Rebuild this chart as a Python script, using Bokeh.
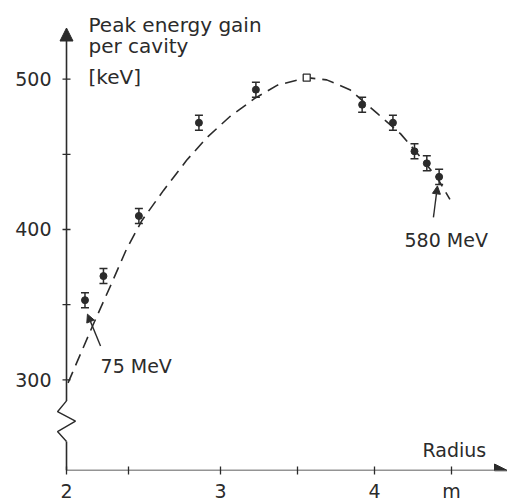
from bokeh.plotting import figure
from bokeh.models import (Range1d, FixedTicker, Arrow, NormalHead, Label,
                          Whisker, ColumnDataSource, TeeHead)
from bokeh.embed import file_html
from bokeh.resources import INLINE

# ---- data ----
radius = [2.12, 2.24, 2.47, 2.86, 3.23, 3.92, 4.12, 4.26, 4.34, 4.42]
gain = [353, 369, 409, 471, 493, 483, 471, 452, 444, 435]
err = [5, 5, 5, 5, 5, 5, 5, 5, 5, 5]

peak_r = [3.56]
peak_gain = [501]

curve_r = [2.01, 2.17, 2.29, 2.39, 2.49, 2.63, 2.78, 2.91, 3.06, 3.22, 3.37, 3.56,
           3.69, 3.84, 4.02, 4.17, 4.30, 4.41, 4.49]
curve_gain = [298, 336, 363.5, 387, 406, 426, 446, 461, 475, 487, 496, 501,
              499.5, 493, 477, 463.6, 448, 434, 420]

x_ticks = [2, 2.4, 3, 3.5, 4, 4.5]
x_tick_labels = {2: "2", 2.4: "", 3: "3", 3.5: "", 4: "4", 4.5: "m"}
y_ticks = [300, 350, 400, 450, 500]
y_tick_labels = {300: "300", 350: "", 400: "400", 450: "", 500: "500"}

title_lines = ["Peak energy gain", "per cavity", "[keV]"]
x_title = "Radius"
notes = ["75 MeV", "580 MeV"]

INK = "#2b2b2b"
FONT = "DejaVu Sans"
FS = "19px"
FS_T = "20px"

x0, x1 = 1.935, 4.864
y0, y1 = 239.7, 552.3

p = figure(width=507, height=504, output_backend="svg", toolbar_location=None,
           x_range=Range1d(x0, x1), y_range=Range1d(y0, y1),
           min_border_left=56, min_border_right=0, min_border_top=0,
           min_border_bottom=32)
p.outline_line_color = None
p.grid.visible = False
p.background_fill_color = "white"
p.border_fill_color = "white"

# bottom axis: native ticks and labels
xa = p.xaxis[0]
xa.ticker = FixedTicker(ticks=x_ticks)
xa.major_label_overrides = x_tick_labels
xa.axis_line_color = None
xa.major_tick_line_color = INK
xa.major_tick_line_width = 1.3
xa.major_tick_in = 4
xa.major_tick_out = 4
xa.minor_tick_line_color = None
xa.major_label_standoff = 5
xa.major_label_text_font = FONT
xa.major_label_text_font_size = FS
xa.major_label_text_color = INK

# left axis: labels only (axis line drawn at r = 2)
ya = p.yaxis[0]
ya.ticker = FixedTicker(ticks=y_ticks)
ya.major_label_overrides = y_tick_labels
ya.axis_line_color = None
ya.major_tick_line_color = None
ya.major_tick_in = 0
ya.major_tick_out = 0
ya.minor_tick_line_color = None
ya.major_label_standoff = 5
ya.major_label_text_font = FONT
ya.major_label_text_font_size = FS
ya.major_label_text_color = INK

# axis lines with arrows
ax_x = 2.0
p.add_layout(Arrow(x_start=ax_x, y_start=y0, x_end=x1, y_end=y0,
                   line_color=INK, line_width=1.6,
                   end=NormalHead(size=13, fill_color=INK, line_color=INK)))
# y axis: lower piece, zigzag break, upper piece with arrow
brk_top, brk_bot = 286, 259
p.line([ax_x, ax_x], [y0, brk_bot], line_color=INK, line_width=1.6)
dx = 9 / 154.0
p.line([ax_x, ax_x - dx, ax_x + dx, ax_x - dx, ax_x],
       [brk_top, 278.8, 272.6, 265.6, brk_bot], line_color=INK, line_width=1.4)
p.add_layout(Arrow(x_start=ax_x, y_start=brk_top, x_end=ax_x, y_end=534,
                   line_color=INK, line_width=1.6,
                   end=NormalHead(size=13, fill_color=INK, line_color=INK)))
# y ticks crossing the axis
tk = 4 / 154.0
p.segment(x0=[ax_x - tk] * len(y_ticks), y0=y_ticks,
          x1=[ax_x + tk] * len(y_ticks), y1=y_ticks,
          line_color=INK, line_width=1.3)

# dashed curve
p.line(curve_r, curve_gain, line_color=INK, line_width=1.6, line_dash="12 7")

# error bars
src = ColumnDataSource(dict(r=radius, g=gain,
                            lo=[g - e for g, e in zip(gain, err)],
                            hi=[g + e for g, e in zip(gain, err)]))
p.add_layout(Whisker(source=src, base="r", lower="lo", upper="hi",
                     line_color=INK, line_width=1.5,
                     upper_head=TeeHead(size=8, line_color=INK, line_width=1.5),
                     lower_head=TeeHead(size=8, line_color=INK, line_width=1.5)))
p.scatter("r", "g", source=src, size=7, color=INK)
p.scatter(peak_r, peak_gain, marker="square", size=7, fill_color="white",
          line_color=INK, line_width=1.3)

# annotation arrows and notes
p.add_layout(Arrow(x_start=2.221, y_start=322.5, x_end=2.136, y_end=343.7,
                   line_color=INK, line_width=1.4,
                   end=NormalHead(size=8, fill_color=INK, line_color=INK)))
p.add_layout(Arrow(x_start=4.383, y_start=408, x_end=4.409, y_end=429,
                   line_color=INK, line_width=1.4,
                   end=NormalHead(size=8, fill_color=INK, line_color=INK)))

def lab(x, y, t, fs=FS):
    p.add_layout(Label(x=x, y=y, text=t, text_font=FONT, text_font_size=fs,
                       text_color=INK, text_align="left",
                       text_baseline="alphabetic"))

lab(2.221, 309.3, notes[0])
lab(4.195, 392.7, notes[1])
lab(4.312, 253.6, x_title)
lab(2.143, 535.8, title_lines[0], FS_T)
lab(2.143, 521.9, title_lines[1], FS_T)
lab(2.143, 501.5, title_lines[2], FS_T)

open("out.html", "w").write(file_html(p, INLINE))
